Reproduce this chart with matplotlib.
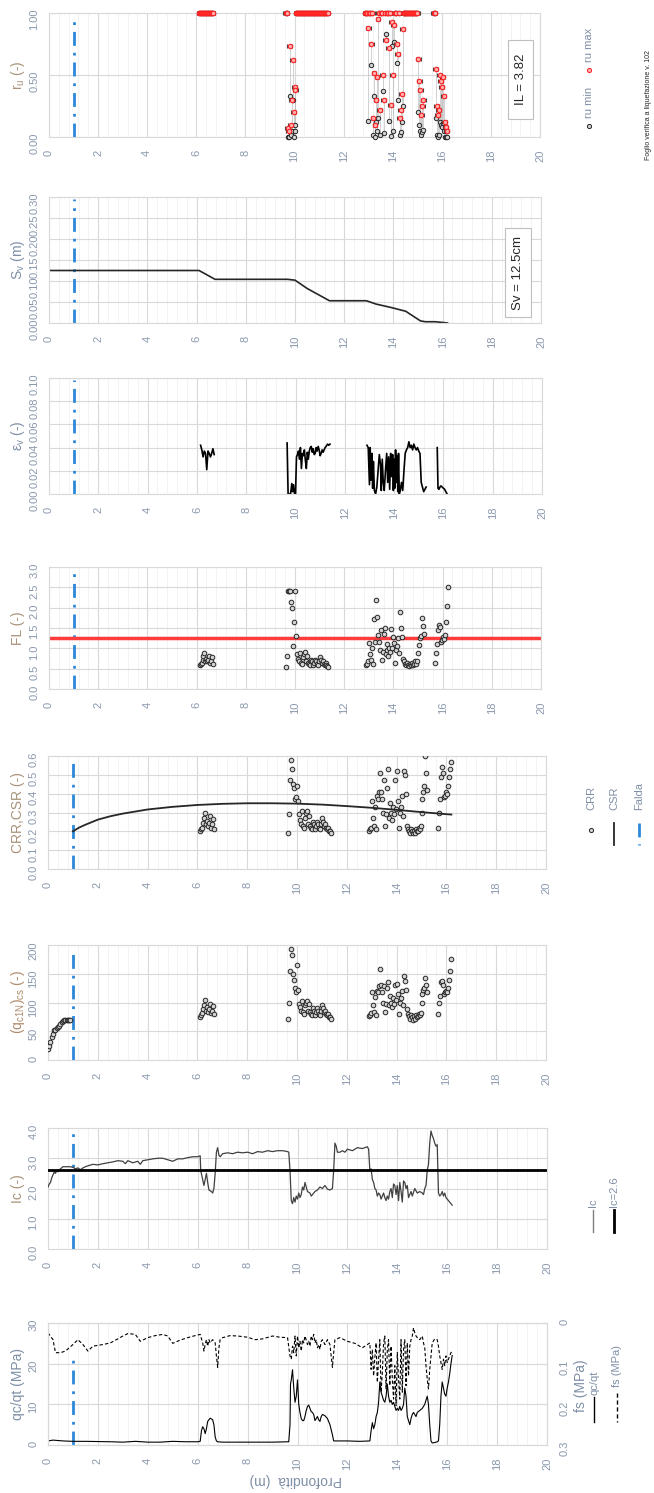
import numpy as np
import matplotlib.pyplot as plt
from matplotlib.lines import Line2D
from matplotlib.patches import Rectangle
from matplotlib.ticker import FormatStrFormatter

plt.rcParams['font.family'] = ['Liberation Sans', 'DejaVu Sans']

# ---------------- data ----------------
falda = 1.0
fl_limit = 1.25
ic_limit = 2.6

# liquefiable layers (shared depths for FL, CRR, qc1N, ru)
depth_A = [6.12, 6.16, 6.20, 6.24, 6.28, 6.32, 6.36, 6.40, 6.44, 6.48, 6.52, 6.56, 6.60, 6.64, 6.68]
fl_A = [0.58, 0.62, 0.65, 0.72, 0.80, 0.88, 0.70, 0.75, 0.68, 0.72, 0.82, 0.65, 0.70, 0.78, 0.62]
crr_A = [0.20, 0.21, 0.22, 0.245, 0.27, 0.30, 0.24, 0.255, 0.23, 0.245, 0.28, 0.22, 0.24, 0.265, 0.21]
qc1n_A = [74, 78, 82, 88, 95, 104, 86, 92, 84, 88, 98, 82, 86, 94, 80]
rumax_A = [1.0, 1.0, 1.0, 1.0, 1.0, 1.0, 1.0, 1.0, 1.0, 1.0, 1.0, 1.0, 1.0, 1.0, 1.0]
rumin_A = [1.0, 1.0, 1.0, 1.0, 1.0, 1.0, 1.0, 1.0, 1.0, 1.0, 1.0, 1.0, 1.0, 1.0, 1.0]

depth_B = [9.64, 9.68, 9.72, 9.76, 9.80, 9.84, 9.88, 9.92, 9.96, 10.00,
           10.04, 10.08, 10.12, 10.16, 10.20, 10.24, 10.28, 10.32, 10.36, 10.40,
           10.44, 10.48, 10.52, 10.56, 10.60, 10.64, 10.68, 10.72, 10.76, 10.80,
           10.84, 10.88, 10.92, 10.96, 11.00, 11.04, 11.08, 11.12, 11.16, 11.20,
           11.24, 11.28, 11.32, 11.36]
fl_B = [0.55, 0.82, 2.40, 2.40, 2.40, 2.15, 2.00, 1.05, 1.65, 2.42,
        1.30, 0.85, 0.75, 0.70, 0.88, 0.65, 0.62, 0.78, 0.85, 0.90,
        0.70, 0.82, 0.65, 0.62, 0.60, 0.72, 0.68, 0.60, 0.65, 0.72,
        0.70, 0.62, 0.60, 0.68, 0.78, 0.72, 0.65, 0.70, 0.62, 0.60,
        0.65, 0.58, 0.57, 0.55]
crr_B = [0.19, 0.29, 0.47, 0.58, 0.53, 0.45, 0.43, 0.37, 0.38, 0.44,
         0.36, 0.29, 0.26, 0.24, 0.31, 0.23, 0.22, 0.27, 0.30, 0.31,
         0.24, 0.28, 0.23, 0.22, 0.21, 0.25, 0.24, 0.21, 0.23, 0.25,
         0.24, 0.22, 0.21, 0.24, 0.27, 0.25, 0.23, 0.24, 0.22, 0.21,
         0.22, 0.20, 0.20, 0.19]
qc1n_B = [72, 100, 155, 193, 182, 150, 140, 125, 118, 165,
          122, 98, 92, 86, 103, 84, 80, 95, 100, 103,
          86, 97, 84, 80, 78, 90, 86, 78, 84, 90,
          86, 80, 78, 86, 95, 90, 84, 86, 80, 78,
          80, 75, 74, 72]
rumax_B = [1.0, 1.0, 0.07, 0.05, 0.73, 0.10, 0.30, 0.62, 0.20, 0.40,
           0.38, 1.0, 1.0, 1.0, 1.0, 1.0, 1.0, 1.0, 1.0, 1.0,
           1.0, 1.0, 1.0, 1.0, 1.0, 1.0, 1.0, 1.0, 1.0, 1.0,
           1.0, 1.0, 1.0, 1.0, 1.0, 1.0, 1.0, 1.0, 1.0, 1.0,
           1.0, 1.0, 1.0, 1.0]
rumin_B = [1.0, 1.0, 0.00, 0.00, 0.33, 0.02, 0.05, 0.30, 0.00, 0.05,
           0.10, 1.0, 1.0, 1.0, 1.0, 1.0, 1.0, 1.0, 1.0, 1.0,
           1.0, 1.0, 1.0, 1.0, 1.0, 1.0, 1.0, 1.0, 1.0, 1.0,
           1.0, 1.0, 1.0, 1.0, 1.0, 1.0, 1.0, 1.0, 1.0, 1.0,
           1.0, 1.0, 1.0, 1.0]

depth_C = [12.88, 12.92, 12.96, 13.00, 13.04, 13.08, 13.12, 13.16, 13.20, 13.24,
           13.28, 13.32, 13.36, 13.40, 13.44, 13.48, 13.52, 13.56, 13.60, 13.64,
           13.68, 13.72, 13.76, 13.80, 13.84, 13.88, 13.92, 13.96, 14.00, 14.04,
           14.08, 14.12, 14.16, 14.20, 14.24, 14.28, 14.32, 14.36, 14.40, 14.44,
           14.48, 14.52, 14.56, 14.60, 14.64, 14.68, 14.72, 14.76, 14.80, 14.84,
           14.88, 14.92, 14.96, 15.00, 15.04, 15.08, 15.12, 15.16, 15.20, 15.24]
fl_C = [0.58, 0.62, 0.68, 1.12, 0.85, 0.72, 1.02, 0.62, 1.72, 1.15,
        2.20, 1.78, 1.32, 1.15, 0.95, 1.45, 0.72, 0.92, 1.35, 1.50,
        0.85, 1.10, 0.95, 0.80, 1.02, 0.90, 1.48, 1.00, 1.28, 1.12,
        0.65, 0.95, 1.05, 1.25, 0.88, 1.90, 1.50, 1.28, 0.75, 0.68,
        0.62, 0.58, 0.65, 0.60, 0.56, 0.62, 0.58, 0.65, 0.60, 0.62,
        0.68, 0.62, 0.70, 0.88, 1.08, 1.25, 1.30, 1.75, 1.55, 1.35]
crr_C = [0.20, 0.21, 0.22, 0.36, 0.27, 0.23, 0.33, 0.21, 0.39, 0.37,
         0.41, 0.51, 0.41, 0.37, 0.30, 0.47, 0.23, 0.29, 0.43, 0.53,
         0.27, 0.35, 0.30, 0.26, 0.33, 0.29, 0.47, 0.32, 0.52, 0.36,
         0.22, 0.30, 0.33, 0.39, 0.28, 0.52, 0.50, 0.40, 0.23, 0.21,
         0.20, 0.19, 0.21, 0.20, 0.19, 0.20, 0.19, 0.21, 0.20, 0.20,
         0.22, 0.21, 0.23, 0.30, 0.37, 0.41, 0.44, 0.60, 0.51, 0.42]
qc1n_C = [76, 78, 82, 118, 95, 84, 110, 78, 120, 118,
          128, 158, 130, 118, 100, 128, 84, 98, 125, 135,
          95, 112, 100, 92, 108, 98, 130, 105, 132, 115,
          80, 100, 108, 120, 96, 146, 138, 122, 88, 80,
          76, 72, 78, 74, 70, 76, 72, 78, 75, 76,
          80, 78, 82, 100, 115, 122, 125, 142, 130, 118]
rumax_C = [1.0, 1.0, 1.0, 0.88, 1.0, 1.0, 0.75, 1.0, 0.15, 0.52,
           0.10, 0.30, 0.48, 0.95, 1.0, 0.22, 1.0, 1.0, 0.50, 0.30,
           1.0, 0.78, 1.0, 1.0, 0.72, 1.0, 0.26, 0.93, 0.50, 0.90,
           1.0, 1.0, 0.75, 0.67, 1.0, 0.15, 0.22, 0.35, 0.87, 1.0,
           1.0, 1.0, 1.0, 1.0, 1.0, 1.0, 1.0, 1.0, 1.0, 1.0,
           1.0, 1.0, 1.0, 1.0, 0.63, 0.45, 0.38, 0.18, 0.25, 0.30]
rumin_C = [1.0, 1.0, 1.0, 0.13, 1.0, 1.0, 0.58, 1.0, 0.02, 0.33,
           0.00, 0.12, 0.05, 0.15, 1.0, 0.02, 1.0, 1.0, 0.37, 0.03,
           1.0, 0.83, 1.0, 1.0, 0.13, 1.0, 0.01, 0.73, 0.05, 0.77,
           1.0, 1.0, 0.60, 0.30, 1.0, 0.02, 0.04, 0.12, 0.25, 1.0,
           1.0, 1.0, 1.0, 1.0, 1.0, 1.0, 1.0, 1.0, 1.0, 1.0,
           1.0, 1.0, 1.0, 1.0, 0.20, 0.10, 0.05, 0.02, 0.04, 0.06]

depth_D = [15.68, 15.72, 15.76, 15.80, 15.84, 15.88, 15.92, 15.96, 16.00, 16.04, 16.08, 16.12, 16.16, 16.20]
fl_D = [0.65, 0.88, 1.10, 1.45, 1.58, 1.52, 1.15, 1.20, 1.28, 1.22, 1.32, 1.65, 2.05, 2.50]
crr_D = [0.22, 0.30, 0.37, 0.49, 0.54, 0.51, 0.38, 0.39, 0.41, 0.40, 0.44, 0.49, 0.53, 0.57]
qc1n_D = [80, 100, 112, 135, 138, 130, 115, 118, 120, 118, 125, 140, 155, 175]
rumax_D = [1.0, 1.0, 0.55, 0.25, 0.18, 0.22, 0.50, 0.45, 0.40, 0.48, 0.33, 0.12, 0.08, 0.05]
rumin_D = [1.0, 1.0, 0.15, 0.02, 0.00, 0.02, 0.12, 0.10, 0.08, 0.11, 0.05, 0.00, 0.00, 0.00]

# qc1N above the water table
depth_top = [0.02, 0.05, 0.10, 0.15, 0.20, 0.25, 0.30, 0.35, 0.40, 0.45,
             0.50, 0.55, 0.60, 0.65, 0.70, 0.75, 0.80, 0.85, 0.90]
qc1n_top = [20, 25, 32, 40, 45, 52, 53, 56, 58, 60, 63, 66, 68, 70, 70, 70, 70, 69, 70]

# CSR curve
csr_depth = [1.0, 1.25, 1.5, 2.0, 2.5, 3.0, 4.0, 5.0, 6.0, 7.0, 8.0, 9.0, 10.0, 11.0, 12.0, 13.0, 14.0, 15.0, 16.2]
csr = [0.200, 0.220, 0.235, 0.262, 0.280, 0.294, 0.316, 0.330, 0.340, 0.346, 0.349, 0.349, 0.347, 0.342,
       0.334, 0.325, 0.314, 0.302, 0.289]

# settlement Sv
sv_depth = [0.0, 6.1, 6.75, 9.7, 10.0, 10.5, 11.4, 12.9, 13.3, 13.9, 14.5, 15.1, 15.3, 15.7, 16.2]
sv = [0.125, 0.125, 0.104, 0.104, 0.102, 0.082, 0.053, 0.053, 0.045, 0.037, 0.028, 0.005, 0.003, 0.003, 0.0]

# volumetric strain, one list per layer
ev_depth_A = [6.15, 6.20, 6.25, 6.30, 6.35, 6.40, 6.45, 6.50, 6.55, 6.60, 6.65, 6.70]
ev_A = [0.042, 0.038, 0.032, 0.037, 0.035, 0.021, 0.037, 0.035, 0.032, 0.035, 0.039, 0.034]
ev_depth_B = [9.66, 9.70, 9.75, 9.80, 9.85, 9.88, 9.92, 9.96, 10.00, 10.04,
              10.08, 10.12, 10.16, 10.20, 10.24, 10.28, 10.32, 10.36, 10.40, 10.44,
              10.48, 10.52, 10.56, 10.60, 10.64, 10.68, 10.72, 10.76, 10.80, 10.84,
              10.88, 10.92, 10.96, 11.00, 11.04, 11.08, 11.12, 11.16, 11.20, 11.24,
              11.30, 11.35, 11.40]
ev_B = [0.044, 0.0, 0.0, 0.0, 0.009, 0.002, 0.008, 0.0, 0.0, 0.032,
        0.034, 0.037, 0.030, 0.040, 0.022, 0.035, 0.033, 0.038, 0.029, 0.022,
        0.036, 0.030, 0.037, 0.040, 0.041, 0.036, 0.039, 0.034, 0.035, 0.040,
        0.037, 0.041, 0.038, 0.033, 0.035, 0.038, 0.036, 0.038, 0.040, 0.041,
        0.043, 0.042, 0.043]
ev_depth_C = [12.90, 12.95, 13.00, 13.03, 13.06, 13.10, 13.13, 13.16, 13.20, 13.25,
              13.30, 13.35, 13.40, 13.45, 13.48, 13.52, 13.56, 13.60, 13.65, 13.70,
              13.74, 13.78, 13.82, 13.86, 13.90, 13.94, 13.97, 14.00, 14.03, 14.06,
              14.09, 14.12, 14.15, 14.18, 14.21, 14.25, 14.30, 14.35, 14.40, 14.45,
              14.50, 14.55, 14.60, 14.65, 14.70, 14.75, 14.80, 14.85, 14.90, 14.95,
              15.00, 15.05, 15.10, 15.15, 15.20, 15.25, 15.30]
ev_C = [0.042, 0.040, 0.008, 0.040, 0.012, 0.035, 0.005, 0.028, 0.003, 0.000,
        0.006, 0.020, 0.034, 0.025, 0.003, 0.030, 0.010, 0.003, 0.020, 0.035,
        0.010, 0.032, 0.004, 0.035, 0.015, 0.034, 0.003, 0.030, 0.005, 0.038,
        0.010, 0.033, 0.002, 0.035, 0.000, 0.003, 0.010, 0.003, 0.020, 0.035,
        0.038, 0.040, 0.045, 0.040, 0.042, 0.038, 0.043, 0.040, 0.038, 0.040,
        0.037, 0.035, 0.010, 0.006, 0.002, 0.004, 0.006]
ev_depth_D = [15.75, 15.78, 15.82, 15.86, 15.90, 15.95, 16.00, 16.05, 16.10, 16.15]
ev_D = [0.040, 0.005, 0.004, 0.006, 0.007, 0.006, 0.005, 0.004, 0.002, 0.000]

# Ic profile
ic_depth = [0.0, 0.05, 0.1, 0.15, 0.2, 0.25, 0.3, 0.35, 0.4, 0.45,
            0.5, 0.6, 0.7, 0.8, 0.9, 1.0, 1.1, 1.2, 1.3, 1.4,
            1.5, 1.6, 1.8, 2.0, 2.2, 2.4, 2.6, 2.8, 3.0, 3.1,
            3.2, 3.4, 3.6, 3.7, 3.8, 4.0, 4.2, 4.4, 4.6, 4.8,
            5.0, 5.2, 5.4, 5.6, 5.8, 6.0, 6.1, 6.12, 6.2, 6.25,
            6.3, 6.35, 6.4, 6.45, 6.55, 6.6, 6.65, 6.7, 6.75, 6.8,
            6.85, 6.9, 7.0, 7.2, 7.4, 7.6, 7.8, 8.0, 8.2, 8.4,
            8.6, 8.8, 9.0, 9.2, 9.4, 9.6, 9.65, 9.7, 9.75, 9.8,
            9.85, 9.9, 9.95, 10.0, 10.05, 10.1, 10.15, 10.2, 10.25, 10.3,
            10.35, 10.4, 10.5, 10.55, 10.6, 10.7, 10.8, 10.9, 11.0, 11.1,
            11.2, 11.3, 11.4, 11.45, 11.5, 11.55, 11.6, 11.7, 11.8, 11.9,
            12.0, 12.2, 12.4, 12.6, 12.8, 12.85, 12.9, 12.95, 13.0, 13.05,
            13.1, 13.15, 13.2, 13.25, 13.3, 13.35, 13.4, 13.45, 13.5, 13.55,
            13.6, 13.65, 13.7, 13.75, 13.8, 13.85, 13.9, 13.95, 14.0, 14.05,
            14.1, 14.15, 14.2, 14.25, 14.3, 14.35, 14.4, 14.45, 14.5, 14.55,
            14.6, 14.7, 14.8, 14.9, 15.0, 15.05, 15.1, 15.15, 15.2, 15.25,
            15.3, 15.35, 15.4, 15.45, 15.5, 15.55, 15.6, 15.65, 15.7, 15.75,
            15.8, 15.85, 15.9, 15.95, 16.0, 16.1, 16.2]
ic = [2.05, 2.15, 2.20, 2.35, 2.45, 2.55, 2.50, 2.60, 2.55, 2.62,
      2.65, 2.72, 2.72, 2.72, 2.72, 2.70, 2.65, 2.68, 2.62, 2.68,
      2.72, 2.75, 2.80, 2.78, 2.82, 2.85, 2.88, 2.92, 2.90, 2.82,
      2.92, 2.85, 2.90, 2.80, 2.92, 2.95, 2.98, 3.00, 3.00, 2.95,
      2.90, 2.98, 2.98, 3.02, 3.05, 3.05, 3.08, 2.60, 2.30, 2.10,
      2.30, 2.50, 2.20, 1.95, 1.90, 1.85, 2.00, 2.50, 3.20, 3.35,
      3.10, 3.05, 3.15, 3.18, 3.15, 3.20, 3.18, 3.20, 3.15, 3.22,
      3.20, 3.25, 3.22, 3.25, 3.25, 3.22, 3.20, 2.60, 1.60, 1.50,
      1.70, 1.55, 1.75, 1.65, 1.85, 1.70, 1.80, 2.05, 1.95, 2.20,
      2.05, 1.90, 1.85, 1.75, 1.80, 1.90, 1.95, 2.05, 2.00, 2.10,
      1.98, 1.95, 2.00, 2.60, 3.50, 3.40, 3.20, 3.20, 3.25, 3.20,
      3.30, 3.25, 3.35, 3.32, 3.38, 3.30, 2.60, 2.65, 2.30, 2.20,
      2.00, 1.95, 1.75, 1.85, 1.80, 1.65, 1.75, 1.85, 1.70, 1.60,
      1.75, 1.65, 1.90, 2.00, 1.70, 2.15, 2.10, 1.80, 2.10, 1.60,
      2.20, 1.90, 1.55, 2.25, 2.20, 2.00, 2.10, 1.70, 1.80, 1.90,
      1.75, 2.00, 1.85, 1.90, 1.85, 1.80, 2.00, 2.10, 2.60, 2.80,
      3.50, 3.90, 3.75, 3.65, 3.50, 3.40, 3.45, 1.85, 1.75, 1.80,
      1.90, 1.75, 1.85, 1.70, 1.65, 1.55, 1.45]

# cone resistance qc/qt (MPa)
qc_depth = [0.0, 0.2, 0.4, 0.6, 1.0, 1.5, 2.0, 2.5, 3.0, 3.5,
            4.0, 4.5, 5.0, 5.5, 6.0, 6.1, 6.15, 6.2, 6.25, 6.3,
            6.35, 6.4, 6.5, 6.6, 6.65, 6.7, 6.75, 6.8, 7.0, 8.0,
            9.0, 9.65, 9.7, 9.72, 9.75, 9.8, 9.85, 9.9, 9.95, 10.0,
            10.05, 10.1, 10.15, 10.2, 10.25, 10.3, 10.35, 10.4, 10.45, 10.5,
            10.55, 10.6, 10.65, 10.7, 10.75, 10.8, 10.85, 10.9, 10.95, 11.0,
            11.1, 11.2, 11.3, 11.4, 11.45, 11.6, 12.0, 12.5, 12.9, 12.95,
            13.0, 13.05, 13.1, 13.15, 13.2, 13.25, 13.3, 13.35, 13.4, 13.45,
            13.5, 13.55, 13.6, 13.65, 13.7, 13.75, 13.8, 13.85, 13.9, 13.95,
            14.0, 14.05, 14.1, 14.15, 14.2, 14.25, 14.3, 14.35, 14.4, 14.45,
            14.5, 14.55, 14.6, 14.65, 14.7, 14.75, 14.8, 14.9, 15.0, 15.1,
            15.15, 15.2, 15.25, 15.3, 15.35, 15.4, 15.5, 15.6, 15.65, 15.7,
            15.75, 15.8, 15.85, 15.9, 15.95, 16.0, 16.05, 16.1, 16.15, 16.2]
qc = [1.0, 1.2, 1.1, 1.0, 0.9, 0.9, 0.85, 0.8, 0.7, 0.9,
      0.7, 0.7, 0.9, 0.8, 0.8, 0.9, 3.5, 4.5, 4.0, 2.8,
      4.0, 5.8, 6.6, 6.2, 5.0, 2.0, 1.0, 0.8, 0.7, 0.7,
      0.7, 0.8, 5.0, 15.0, 16.0, 18.5, 14.0, 10.5, 12.0, 16.0,
      10.0, 8.0, 6.5, 6.0, 6.0, 7.0, 8.5, 9.5, 9.8, 9.0,
      8.2, 8.0, 7.5, 6.0, 6.5, 7.0, 6.2, 5.8, 7.0, 7.5,
      7.2, 6.5, 5.0, 2.5, 1.0, 1.0, 1.0, 0.9, 1.0, 3.5,
      5.5, 4.0, 5.0, 7.0, 8.0, 10.5, 15.5, 13.0, 12.0, 11.0,
      10.5, 12.0, 15.0, 12.0, 10.5, 11.0, 10.0, 10.5, 9.5, 8.5,
      9.0, 8.5, 9.5, 8.5, 9.0, 10.0, 14.0, 12.0, 7.0, 6.0,
      5.0, 6.5, 7.5, 8.0, 7.5, 7.0, 8.0, 8.5, 9.0, 10.0,
      11.0, 12.0, 10.0, 5.0, 1.0, 0.5, 0.6, 0.8, 1.0, 5.0,
      12.0, 15.5, 14.0, 12.5, 12.0, 14.0, 15.5, 17.5, 20.0, 22.0]

# sleeve friction fs (MPa)
fs_depth = [0.0, 0.2, 0.3, 0.5, 0.7, 1.0, 1.2, 1.4, 1.6, 1.8,
            2.0, 2.2, 2.5, 2.8, 3.0, 3.2, 3.5, 3.7, 4.0, 4.3,
            4.6, 4.8, 5.0, 5.3, 5.6, 5.9, 6.1, 6.2, 6.25, 6.3,
            6.35, 6.4, 6.45, 6.5, 6.6, 6.7, 6.75, 6.8, 6.85, 6.9,
            7.0, 7.3, 7.6, 8.0, 8.3, 8.6, 9.0, 9.3, 9.6, 9.7,
            9.75, 9.8, 9.85, 9.9, 9.95, 10.0, 10.05, 10.1, 10.15, 10.2,
            10.25, 10.3, 10.4, 10.45, 10.5, 10.55, 10.6, 10.65, 10.7, 10.75,
            10.8, 10.85, 10.9, 10.95, 11.0, 11.1, 11.2, 11.3, 11.4, 11.45,
            11.5, 11.7, 12.0, 12.3, 12.6, 12.8, 12.9, 12.95, 13.0, 13.05,
            13.1, 13.15, 13.2, 13.25, 13.3, 13.35, 13.4, 13.45, 13.5, 13.55,
            13.6, 13.65, 13.7, 13.75, 13.8, 13.85, 13.9, 13.95, 14.0, 14.05,
            14.1, 14.15, 14.2, 14.25, 14.3, 14.35, 14.4, 14.45, 14.5, 14.55,
            14.6, 14.65, 14.7, 14.75, 14.8, 14.9, 15.0, 15.05, 15.1, 15.15,
            15.2, 15.25, 15.3, 15.35, 15.4, 15.5, 15.6, 15.65, 15.7, 15.75,
            15.8, 15.85, 15.9, 15.95, 16.0, 16.1, 16.15, 16.2]
fs = [0.024, 0.041, 0.073, 0.073, 0.069, 0.053, 0.041, 0.053, 0.069, 0.057,
      0.055, 0.053, 0.049, 0.039, 0.032, 0.026, 0.028, 0.045, 0.036, 0.031,
      0.028, 0.032, 0.050, 0.042, 0.036, 0.031, 0.028, 0.049, 0.069, 0.053,
      0.041, 0.057, 0.041, 0.049, 0.041, 0.049, 0.081, 0.109, 0.061, 0.041,
      0.036, 0.031, 0.032, 0.035, 0.041, 0.039, 0.032, 0.035, 0.036, 0.081,
      0.089, 0.057, 0.073, 0.032, 0.081, 0.032, 0.061, 0.045, 0.069, 0.041,
      0.049, 0.032, 0.053, 0.045, 0.057, 0.032, 0.041, 0.028, 0.049, 0.041,
      0.061, 0.053, 0.065, 0.045, 0.041, 0.053, 0.041, 0.053, 0.109, 0.073,
      0.041, 0.036, 0.045, 0.050, 0.061, 0.053, 0.049, 0.114, 0.065, 0.130,
      0.085, 0.049, 0.146, 0.089, 0.041, 0.170, 0.122, 0.049, 0.032, 0.162,
      0.065, 0.041, 0.154, 0.057, 0.138, 0.187, 0.105, 0.203, 0.073, 0.138,
      0.187, 0.041, 0.170, 0.065, 0.041, 0.154, 0.049, 0.130, 0.057, 0.041,
      0.032, 0.012, 0.024, 0.032, 0.036, 0.041, 0.032, 0.049, 0.061, 0.105,
      0.138, 0.162, 0.114, 0.081, 0.049, 0.039, 0.041, 0.057, 0.081, 0.097,
      0.114, 0.089, 0.105, 0.081, 0.097, 0.081, 0.073, 0.069]

depth_liq = np.concatenate([depth_A, depth_B, depth_C, depth_D])
fl_all = np.concatenate([fl_A, fl_B, fl_C, fl_D])
crr_all = np.concatenate([crr_A, crr_B, crr_C, crr_D])
qc1n_all = np.concatenate([qc1n_A, qc1n_B, qc1n_C, qc1n_D])
rumax_all = np.concatenate([rumax_A, rumax_B, rumax_C, rumax_D])
rumin_all = np.concatenate([rumin_A, rumin_B, rumin_C, rumin_D])

# ---------------- styling ----------------
W, H = 654, 1493
TICK = '#8A98AD'
TAN = '#A8927A'
BLUEGRAY = '#7F8FA6'
GRID = '#D9D9D9'
BLUE = '#2B88D8'
FALDA_LS = (0, (5, 2.5, 1, 2.5))
PT_FC = '#D4D4D4'

fig = plt.figure(figsize=(W / 100, H / 100), dpi=100)


def fx(x):
    return x / W


def fy(y):
    return 1 - y / H


def make_axes(x0, y0, x1, y1):
    return fig.add_axes([fx(x0), fy(y1), (x1 - x0) / W, (y1 - y0) / H])


def setup(ax, ymax, ystep, fmt):
    ax.set_xlim(0, 20)
    ax.set_ylim(0, ymax)
    ax.set_xticks(np.arange(0, 21, 2))
    ax.set_xticks(np.arange(0, 20.01, 0.4), minor=True)
    ax.set_yticks(np.arange(0, ymax + ystep / 2, ystep))
    ax.yaxis.set_major_formatter(FormatStrFormatter(fmt))
    ax.grid(which='major', color=GRID, lw=0.8)
    ax.grid(which='minor', axis='x', color='#EEEEEE', lw=0.5)
    ax.set_axisbelow(True)
    ax.tick_params(which='both', length=0, labelsize=8, labelcolor=TICK)
    ax.tick_params(axis='x', labelrotation=90, pad=9)
    ax.tick_params(axis='y', labelrotation=90, pad=7)
    for s in ax.spines.values():
        s.set_color(GRID)


def falda_line(ax, top):
    ax.plot([falda, falda], [0, top], color=BLUE, lw=2, ls=FALDA_LS)


def title(text, y0, y1, color, x=18):
    fig.text(fx(x), fy((y0 + y1) / 2), text, rotation=90, ha='center', va='center',
             fontsize=10, color=color)


def leg_text(x, y, text, size=8):
    fig.text(fx(x), fy(y), text, rotation=90, ha='center', va='bottom', fontsize=size, color=BLUEGRAY)


def leg_line(x, y0, y1, **kw):
    fig.add_artist(Line2D([fx(x), fx(x)], [fy(y0), fy(y1)], transform=fig.transFigure, **kw))


def leg_marker(x, y, **kw):
    fig.add_artist(Line2D([fx(x)], [fy(y)], transform=fig.transFigure, ls='none', marker='o', **kw))


def points(ax, d, v):
    ax.scatter(d, v, s=11, fc=PT_FC, ec='#262626', lw=0.7, zorder=3)


# ---- ru panel ----
box = (49, 13, 540, 137)
ax = make_axes(*box)
setup(ax, 1.0, 0.5, '%.2f')
falda_line(ax, 0.97)
ax.vlines(depth_liq, rumin_all, rumax_all, color='#BFBFBF', lw=0.5, zorder=2)
ax.scatter(depth_liq, rumin_all, s=10, fc=PT_FC, ec='#262626', lw=0.7, zorder=3, clip_on=False)
ax.errorbar(depth_liq, rumax_all, xerr=0.1, fmt='o', ms=3.2, mfc='#FFB0B0', mec='#FF2020', mew=0.8,
            ecolor='#404040', elinewidth=0.6, capsize=1.5, capthick=0.6, zorder=4, clip_on=False)
title(r'$\mathregular{r_u}$ (-)', box[1], box[3], TAN)
fig.add_artist(Rectangle((fx(508), fy(119)), 25 / W, 79 / H, transform=fig.transFigure,
                         fc='white', ec='#BFBFBF', lw=0.8, zorder=5))
fig.text(fx(520.5), fy(79.5), 'IL = 3.82', rotation=90, ha='center', va='center', fontsize=9.5,
         color='#262626', zorder=6)
leg_marker(589, 126, ms=3, mfc=PT_FC, mec='#262626', mew=0.7)
leg_text(589, 118, 'ru min')
leg_marker(589, 70, ms=3, mfc='#FFB0B0', mec='#FF2020', mew=0.7)
leg_text(589, 62, 'ru max')
fig.text(fx(648), fy(160), 'Foglio verifica a liquefazione v. 102', rotation=90, ha='center',
         va='bottom', fontsize=5, color='#262626')

# ---- Sv panel ----
box = (49, 197, 541, 323)
ax = make_axes(*box)
setup(ax, 0.30, 0.05, '%.2f')
falda_line(ax, 0.295)
ax.plot(sv_depth, sv, color='#262626', lw=1.2)
title(r'$\mathregular{S_v}$ (m)', box[1], box[3], BLUEGRAY)
fig.add_artist(Rectangle((fx(505), fy(317)), 26 / W, 89 / H, transform=fig.transFigure,
                         fc='white', ec='#BFBFBF', lw=0.8, zorder=5))
fig.text(fx(518), fy(272.5), 'Sv = 12.5cm', rotation=90, ha='center', va='center', fontsize=9.5,
         color='#262626', zorder=6)

# ---- ev panel ----
box = (49, 378, 542, 494)
ax = make_axes(*box)
setup(ax, 0.10, 0.02, '%.2f')
falda_line(ax, 0.098)
for d, v in [(ev_depth_A, ev_A), (ev_depth_B, ev_B), (ev_depth_C, ev_C), (ev_depth_D, ev_D)]:
    ax.plot(d, v, color='black', lw=1.2)
title(r'$\mathregular{\epsilon_v}$ (-)', box[1], box[3], BLUEGRAY)

# ---- FL panel ----
box = (49, 567, 541, 689)
ax = make_axes(*box)
setup(ax, 3.0, 0.5, '%.1f')
falda_line(ax, 2.9)
ax.axhline(fl_limit, color='#FF3B3B', lw=2.5, zorder=2)
points(ax, depth_liq, fl_all)
title('FL (-)', box[1], box[3], TAN)

# ---- CRR / CSR panel ----
box = (48, 756, 546, 869)
ax = make_axes(*box)
setup(ax, 0.6, 0.1, '%.1f')
falda_line(ax, 0.6)
points(ax, depth_liq, crr_all)
ax.plot(csr_depth, csr, color='#262626', lw=1.3, zorder=4)
title('CRR,CSR (-)', box[1], box[3], TAN)
leg_marker(591, 830, ms=3, mfc=PT_FC, mec='#262626', mew=0.7)
leg_text(591, 810, 'CRR')
leg_line(614, 823, 845, color='#262626', lw=1.3)
leg_text(614, 810, 'CSR')
leg_line(639, 823, 845, color=BLUE, lw=2, ls=FALDA_LS)
leg_text(639, 810, 'Falda')

# ---- qc1N panel ----
box = (48, 945, 546, 1060)
ax = make_axes(*box)
setup(ax, 200, 50, '%d')
falda_line(ax, 190)
points(ax, depth_top, qc1n_top)
points(ax, depth_liq, qc1n_all)
title(r'$\mathregular{(q_{c1N})_{cs}}$ (-)', box[1], box[3], '#B08A6A')

# ---- Ic panel ----
box = (48, 1128, 547, 1249)
ax = make_axes(*box)
setup(ax, 4.0, 1.0, '%.1f')
falda_line(ax, 3.9)
ax.plot(ic_depth, ic, color='#404040', lw=0.9, zorder=3)
ax.axhline(ic_limit, color='black', lw=2, zorder=4)
title('Ic (-)', box[1], box[3], TAN)
leg_line(593, 1210, 1232, color='#808080', lw=1)
leg_text(593, 1207, 'Ic')
leg_line(614, 1210, 1232, color='black', lw=2)
leg_text(614, 1207, 'Ic=2.6')

# ---- qc / fs panel ----
box = (48, 1323, 547, 1445)
ax = make_axes(*box)
setup(ax, 30, 10, '%d')
falda_line(ax, 22)
ax.plot(qc_depth, qc, color='black', lw=0.8, zorder=3)
ax2 = ax.twinx()
ax2.set_ylim(0.3, 0)
ax2.set_yticks([0, 0.1, 0.2, 0.3])
ax2.set_yticklabels(['0', '0.1', '0.2', '0.3'])
ax2.tick_params(length=0, labelsize=8, labelcolor=TICK, labelrotation=90, pad=9)
for s in ax2.spines.values():
    s.set_color(GRID)
ax2.plot(fs_depth, fs, color='black', lw=0.8, ls=(0, (3, 2)))
title('qc/qt (MPa)', box[1], box[3], BLUEGRAY)
fig.text(fx(581), fy(1386), 'fs (MPa)', rotation=90, ha='center', va='center', fontsize=10,
         color=BLUEGRAY)
leg_line(594, 1397, 1422, color='black', lw=1)
leg_text(594, 1395, 'qc/qt')
leg_line(617, 1393, 1422, color='black', lw=1, ls=(0, (3, 2)))
leg_text(617, 1387, 'fs (MPa)')

fig.text(fx(296), fy(1480), 'Profondità  (m)', rotation=180, ha='center', va='center',
         fontsize=10, color=BLUEGRAY)

fig.savefig('out.png', dpi=100)
